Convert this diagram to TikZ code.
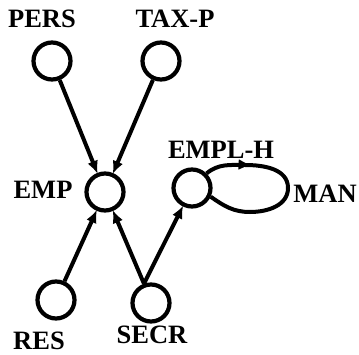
\documentclass[tikz,border=0pt]{standalone}
\usepackage{fontspec}
\setmainfont{Liberation Serif}
\usetikzlibrary{arrows.meta,decorations.markings}
\begin{document}
\begin{tikzpicture}[x=1pt,y=1pt,
  entity/.style={circle,draw,line width=4.2pt,minimum size=37pt,inner sep=0pt},
  lbl/.style={font=\bfseries\fontsize{26.5}{26.5}\selectfont,inner sep=0pt},
  rel/.style={line width=4pt,-{Latex[length=13pt,width=11pt]},shorten >=-1pt},
  loopmark/.style={decoration={markings,mark=at position #1 with {\arrow{Latex[length=13pt,width=11pt]}}},postaction={decorate}}]
\useasboundingbox (0,0) rectangle (359,354);
% entity circles
\node[entity] (pers) at (52,293) {};
\node[entity] (taxp) at (161,293) {};
\node[entity] (emp)  at (105,162) {};
\node[entity] (emplh) at (192,166) {};
\node[entity] (res)  at (56,54) {};
\node[entity] (secr) at (151,51) {};
% labels
\node[lbl] (tpers) at (42,335) {PERS};
\node[lbl] (ttaxp) at (175,335) {TAX-P};
\node[lbl] (temp)  at (43,164) {EMP};
\node[lbl] (templh) at (221,204) {EMPL-H};
\node[lbl] (tman)  at (325,160) {MAN};
\node[lbl] (tres)  at (39,13) {RES};
\node[lbl] (tsecr) at (152,19) {SECR};
% relationships
\draw[rel] (pers) -- (emp);
\draw[rel] (taxp) -- (emp);
\draw[rel] (res) -- (emp);
\draw[rel] (secr.110) -- (emp);
\draw[rel] (secr.110) -- (emplh);
% recursive link
\draw[line width=4pt,loopmark=0.25] (emplh.45) to[out=40,in=180] (245,189)
  to[out=0,in=90] (288,166) to[out=-90,in=0] (250,142) to[out=180,in=-35] (emplh.-25);
\end{tikzpicture}
\end{document}
